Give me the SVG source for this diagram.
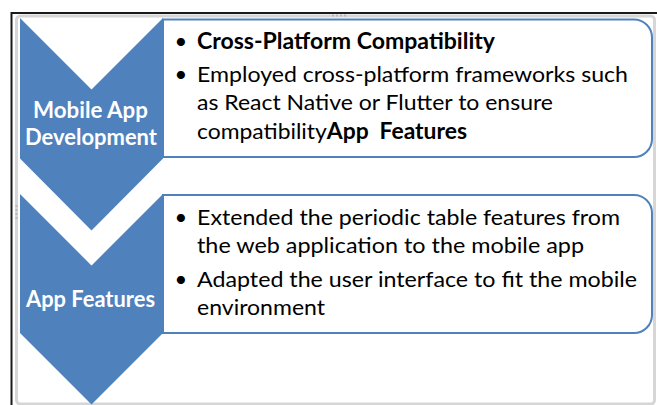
<svg xmlns="http://www.w3.org/2000/svg" width="657" height="405" viewBox="0 0 657 405">
<style>
.chev{fill:#4F81BD}
.box{fill:#FFFFFF;stroke:#4F81BD;stroke-width:2}
.lbl{font-family:Lato,"Open Sans",sans-serif;font-weight:bold;font-size:22px;fill:#FFFFFF;text-anchor:middle}
.txt{font-family:Lato,"Open Sans",sans-serif;font-size:22px;fill:#000000}
.b{font-weight:bold}
.bul{font-family:Lato,"Open Sans",sans-serif;font-size:22px;fill:#000000;text-anchor:middle}
.dot{fill:#b8b8b8}
</style>
<rect x="0" y="0" width="657" height="405" fill="#FFFFFF"/>
<g id="frame">
<path d="M11.5,405 V13 H657" fill="none" stroke="#1a1a1a" stroke-width="2"/>
<rect x="16.5" y="16" width="638" height="388" rx="4" fill="#FFFFFF" stroke="#d6d6d6" stroke-width="3"/>
<rect x="332" y="14.5" width="2" height="2" class="dot"/><rect x="336" y="14.5" width="2" height="2" class="dot"/><rect x="340" y="14.5" width="2" height="2" class="dot"/><rect x="344" y="14.5" width="2" height="2" class="dot"/>
<rect x="15.5" y="205" width="2" height="2" class="dot"/><rect x="15.5" y="209" width="2" height="2" class="dot"/><rect x="15.5" y="213" width="2" height="2" class="dot"/><rect x="15.5" y="217" width="2" height="2" class="dot"/>
</g>
<g id="connectors"></g>
<g id="node-text-1">
<path class="box" d="M163,19.5 H634 A18,18 0 0 1 652,37.5 V139 A18,18 0 0 1 634,157 H163 Z"/>
<text class="bul" x="181" y="48.5">•</text>
<text class="txt b" x="197" y="48.5" textLength="298" lengthAdjust="spacingAndGlyphs">Cross-Platform Compatibility</text>
<text class="bul" x="181" y="82">•</text>
<text class="txt" x="197" y="82" textLength="431" lengthAdjust="spacingAndGlyphs">Employed cross-platform frameworks such</text>
<text class="txt" x="197" y="110" textLength="356" lengthAdjust="spacingAndGlyphs">as React Native or Flutter to ensure</text>
<text class="txt" x="197" y="138.5" textLength="270" lengthAdjust="spacingAndGlyphs">compatibility<tspan class="b">App </tspan><tspan class="b" dx="5">Features</tspan></text>
</g>
<g id="node-text-2">
<path class="box" d="M163,195 H634 A18,18 0 0 1 652,213 V315 A18,18 0 0 1 634,333 H163 Z"/>
<text class="bul" x="181" y="225">•</text>
<text class="txt" x="197" y="225" textLength="423" lengthAdjust="spacingAndGlyphs">Extended the periodic table features from</text>
<text class="txt" x="197" y="253" textLength="387" lengthAdjust="spacingAndGlyphs">the web application to the mobile app</text>
<text class="bul" x="181" y="287">•</text>
<text class="txt" x="197" y="287" textLength="440" lengthAdjust="spacingAndGlyphs">Adapted the user interface to fit the mobile</text>
<text class="txt" x="197" y="315" textLength="128" lengthAdjust="spacingAndGlyphs">environment</text>
</g>
<g id="node-chevron-1">
<path class="chev" d="M20,18 L91.5,89.5 L163,18 V158.5 L91.5,230.5 L20,158.5 Z"/>
<text class="lbl" x="90.5" y="117.5" textLength="115" lengthAdjust="spacingAndGlyphs">Mobile App</text>
<text class="lbl" x="91" y="144.5" textLength="132" lengthAdjust="spacingAndGlyphs">Development</text>
</g>
<g id="node-chevron-2">
<path class="chev" d="M20,194 L91.5,265.5 L163,194 V333 L91.5,404.5 L20,333 Z"/>
<text class="lbl" x="90.5" y="306.5" textLength="129" lengthAdjust="spacingAndGlyphs">App Features</text>
</g>
</svg>
